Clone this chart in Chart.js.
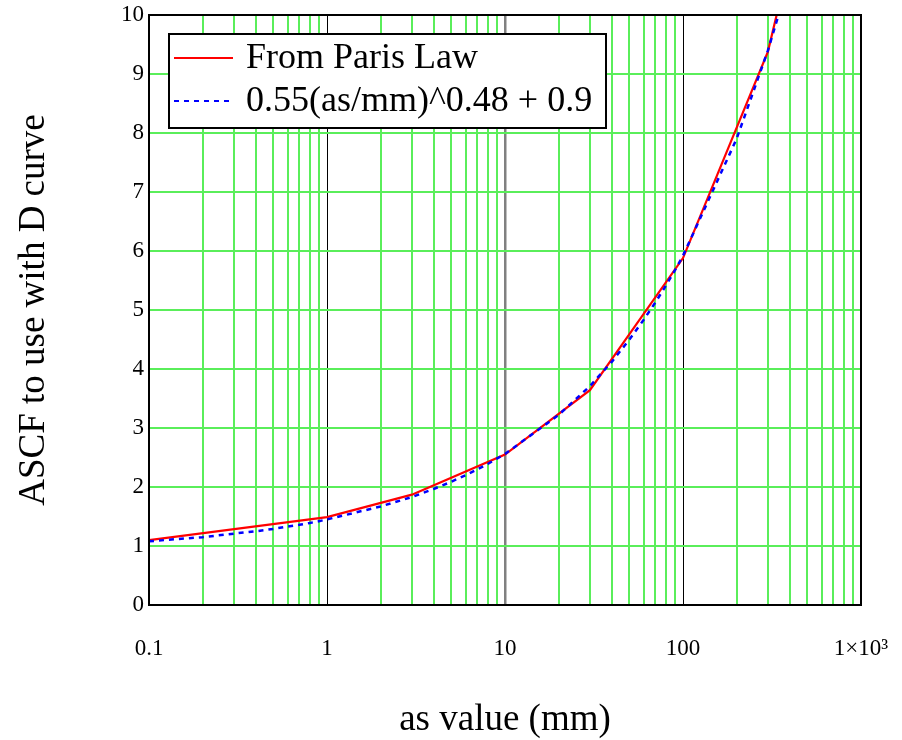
<!DOCTYPE html>
<html>
<head>
<meta charset="utf-8">
<script src="https://cdn.jsdelivr.net/npm/chart.js@4.4.1/dist/chart.umd.min.js"></script>
<style>
  html, body { margin: 0; padding: 0; background: #fff; }
</style>
</head>
<body>
<canvas id="c" width="902" height="740"></canvas>
<script>
// Paris law curve (as in mm, ASCF)
const parisA = [0.1, 1, 3, 10, 30, 100, 300, 1000];
const parisASCF = [1.1, 1.49, 1.87, 2.55, 3.64, 5.88, 9.38, 16.0];

// fitted curve 0.55(as/mm)^0.48 + 0.9
const fitA = [0.1, 0.2, 0.3, 0.4, 0.5, 0.6, 0.7, 0.8, 0.9,
              1, 2, 3, 4, 5, 6, 7, 8, 9,
              10, 20, 30, 40, 50, 60, 70, 80, 90,
              100, 200, 300, 400];
const fitASCF = [1.08, 1.15, 1.21, 1.25, 1.29, 1.33, 1.36, 1.39, 1.42,
                 1.45, 1.67, 1.83, 1.97, 2.09, 2.20, 2.30, 2.39, 2.48,
                 2.56, 3.22, 3.71, 4.13, 4.50, 4.83, 5.13, 5.41, 5.67,
                 5.92, 7.90, 9.40, 10.66];

// x grid ticks and decade labels
const xGrid = [0.1, 0.2, 0.3, 0.4, 0.5, 0.6, 0.7, 0.8, 0.9,
               1, 2, 3, 4, 5, 6, 7, 8, 9,
               10, 20, 30, 40, 50, 60, 70, 80, 90,
               100, 200, 300, 400, 500, 600, 700, 800, 900, 1000];
const decadeValues = [0.1, 1, 10, 100, 1000];
const decadeLabels = ['0.1', '1', '10', '100', '1\u00d710\u00b3'];

const serif = '"Liberation Serif", "Times New Roman", serif';
const green = '#5aee5a';

function pts(xs, ys) {
    var out = [];
    for (let i = 0; i < xs.length; i++) {
        out.push({x: xs[i], y: ys[i]});
    }
    return out;
}

// grid colour / width per x tick: dark decade lines, green minor lines
const xGridColors = xGrid.map(v => {
    if (v === 10) return '#808080';
    if (v === 1 || v === 100) return '#000000';
    return green;
});
const xGridWidths = xGrid.map(v => {
    if (v === 10) return 2.5;
    if (v === 1 || v === 100) return 1;
    return 2;
});

// black frame + legend box inside the plot
const framePlugin = {
    id: 'frame',
    afterDatasetsDraw(chart) {
        const ctx = chart.ctx;
        const a = chart.chartArea;
        ctx.save();
        ctx.strokeStyle = '#000';
        ctx.lineWidth = 2;
        ctx.strokeRect(a.left, a.top, a.right - a.left, a.bottom - a.top);

        const bx = a.left + 20, by = a.top + 19, bw = 437, bh = 94;
        ctx.fillStyle = '#fff';
        ctx.fillRect(bx, by, bw, bh);
        ctx.strokeRect(bx, by, bw, bh);
        chart.data.datasets.forEach((ds, i) => {
            const y = by + 24 + i * 43;
            ctx.beginPath();
            ctx.strokeStyle = ds.borderColor;
            ctx.lineWidth = 2;
            ctx.setLineDash(ds.borderDash || []);
            ctx.moveTo(bx + 5, y);
            ctx.lineTo(bx + 64, y);
            ctx.stroke();
            ctx.setLineDash([]);
            ctx.fillStyle = '#000';
            ctx.font = '36px ' + serif;
            ctx.textBaseline = 'middle';
            ctx.fillText(ds.label, bx + 77, y + 1);
        });
        ctx.restore();
    }
};

var ctx = document.getElementById('c').getContext('2d');
new Chart(ctx, {
    type: 'line',
    data: {
        datasets: [
            {
                label: 'From Paris Law',
                data: pts(parisA, parisASCF),
                borderColor: '#ff0000',
                borderWidth: 2.2,
                pointRadius: 0,
                tension: 0,
                order: 1,
            },
            {
                label: '0.55(as/mm)^0.48 + 0.9',
                data: pts(fitA, fitASCF),
                borderColor: '#0000ff',
                borderWidth: 2.5,
                borderDash: [5, 5],
                pointRadius: 0,
                tension: 0,
                order: 0,
            },
        ],
    },
    options: {
        responsive: false,
        animation: false,
        layout: { padding: { top: 15, right: 41, left: 0, bottom: 0 } },
        plugins: {
            legend: { display: false },
            tooltip: { enabled: false },
        },
        scales: {
            x: {
                type: 'logarithmic',
                min: 0.1,
                max: 1000,
                afterBuildTicks: (scale) => {
                    scale.ticks = xGrid.map(v => ({value: v}));
                },
                afterFit: (scale) => {
                    scale.height = 135;
                    scale.paddingLeft = 0;
                    scale.paddingRight = 0;
                },
                grid: {
                    drawTicks: false,
                    lineWidth: xGridWidths,
                    color: xGridColors,
                },
                border: { display: false },
                ticks: {
                    autoSkip: false,
                    maxRotation: 0,
                    padding: 30,
                    color: '#000',
                    font: { family: serif, size: 23 },
                    callback: (v) => {
                        const k = decadeValues.indexOf(Number(v));
                        return k >= 0 ? decadeLabels[k] : '';
                    },
                },
                title: {
                    display: true,
                    text: 'as value (mm)',
                    color: '#000',
                    font: { family: serif, size: 37 },
                    padding: { top: 0, bottom: -2 },
                },
            },
            y: {
                type: 'linear',
                min: 0,
                max: 10,
                afterFit: (scale) => {
                    scale.width = 149;
                    scale.paddingTop = 0;
                    scale.paddingBottom = 0;
                },
                grid: {
                    drawTicks: false,
                    color: green,
                    lineWidth: 2,
                },
                border: { display: false },
                ticks: {
                    stepSize: 1,
                    padding: 5,
                    color: '#000',
                    font: { family: serif, size: 23 },
                },
                title: {
                    display: true,
                    text: 'ASCF to use with D curve',
                    color: '#000',
                    font: { family: serif, size: 37 },
                    padding: { top: 12, bottom: 0 },
                },
            },
        },
    },
    plugins: [framePlugin],
});
</script>
</body>
</html>
